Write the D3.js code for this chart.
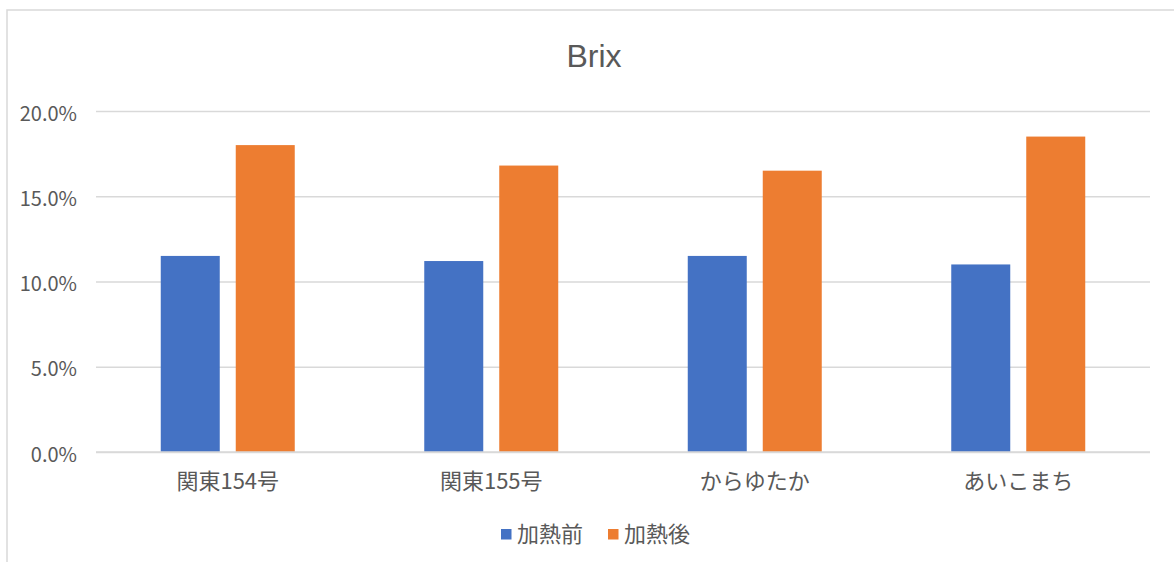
<!DOCTYPE html>
<html>
<head>
<meta charset="utf-8">
<script src="https://cdn.jsdelivr.net/npm/d3@7"></script>
<style>
  html, body { margin: 0; padding: 0; background: #ffffff; }
  svg { display: block; }
  text { font-family: "Noto Sans CJK JP", "Noto Sans", sans-serif; fill: #595959; }
</style>
</head>
<body>
<svg id="chart" width="1174" height="562"></svg>
<script>
// Brix before / after heating, by variety (percent)
const categories = ["関東154号", "関東155号", "からゆたか", "あいこまち"];
const seriesNames = ["加熱前", "加熱後"];
const beforeHeating = [11.5, 11.2, 11.5, 11.0];
const afterHeating = [18.0, 16.8, 16.5, 18.5];
const yTicks = [0, 5, 10, 15, 20];
const colors = ["#4472C4", "#ED7D31"];

const seriesValues = [beforeHeating, afterHeating];
const rows = categories.map((c, i) => ({
  category: c,
  values: seriesNames.map((s, j) => ({ series: s, value: seriesValues[j][i], color: colors[j] }))
}));

const svg = d3.select("#chart");
const W = 1174, H = 562;
const plot = { left: 96, right: 1150, top: 111, bottom: 452 };

// chart frame
svg.append("rect")
  .attr("x", 7).attr("y", 10)
  .attr("width", W + 20).attr("height", H + 20)
  .attr("fill", "#ffffff")
  .attr("stroke", "#D9D9D9").attr("stroke-width", 1.5);

// title
svg.append("text")
  .attr("x", 594).attr("y", 67)
  .attr("text-anchor", "middle")
  .style("font-family", "'Liberation Sans', Arial, sans-serif")
  .style("font-size", "32px")
  .text("Brix");

const y = d3.scaleLinear().domain([0, 20]).range([plot.bottom, plot.top]);
const x0 = d3.scaleBand().domain(categories)
  .range([plot.left, plot.right])
  .paddingInner(0.4915).paddingOuter(0.4915 / 2);
const x1 = d3.scaleBand().domain(seriesNames)
  .range([0, x0.bandwidth()])
  .paddingInner(0.2133);

// gridlines and y tick labels
const yAxis = d3.axisLeft(y)
  .tickValues(yTicks)
  .tickSize(-(plot.right - plot.left))
  .tickPadding(19)
  .tickFormat(d => d.toFixed(1) + "%");

const gy = svg.append("g")
  .attr("transform", `translate(${plot.left},0)`)
  .call(yAxis);
gy.select(".domain").remove();
gy.selectAll(".tick line").attr("stroke", "#D9D9D9").attr("stroke-width", 1.5);
gy.selectAll(".tick text")
  .attr("fill", "#595959")
  .attr("dy", "0.45em")
  .style("font-size", "20px")
  .style("font-family", "'Noto Sans CJK JP', sans-serif");

// bars
const groups = svg.append("g").selectAll("g")
  .data(rows).join("g")
  .attr("transform", d => `translate(${x0(d.category)},0)`);

groups.selectAll("rect")
  .data(d => d.values).join("rect")
  .attr("x", d => x1(d.series))
  .attr("width", x1.bandwidth())
  .attr("y", d => y(d.value))
  .attr("height", d => y(0) - y(d.value))
  .attr("fill", d => d.color);

// baseline
svg.append("line")
  .attr("x1", plot.left).attr("x2", plot.right)
  .attr("y1", y(0)).attr("y2", y(0))
  .attr("stroke", "#D9D9D9").attr("stroke-width", 1.5);

// category labels
const xAxis = d3.axisBottom(x0).tickSize(0).tickPadding(21);
const gx = svg.append("g")
  .attr("transform", `translate(0,${plot.bottom})`)
  .call(xAxis);
gx.select(".domain").remove();
gx.selectAll(".tick text")
  .attr("fill", "#595959")
  .style("font-size", "22px")
  .style("font-family", "'Noto Sans CJK JP', sans-serif");

// legend
const legendItems = [
  { name: seriesNames[0], color: colors[0], x: 501 },
  { name: seriesNames[1], color: colors[1], x: 608 }
];
const lg = svg.append("g").selectAll("g")
  .data(legendItems).join("g")
  .attr("transform", d => `translate(${d.x},529)`);
lg.append("rect")
  .attr("width", 10.5).attr("height", 10.5)
  .attr("fill", d => d.color);
lg.append("text")
  .attr("x", 16).attr("y", 5.5)
  .attr("dy", "0.36em")
  .style("font-size", "22px")
  .text(d => d.name);
</script>
</body>
</html>
